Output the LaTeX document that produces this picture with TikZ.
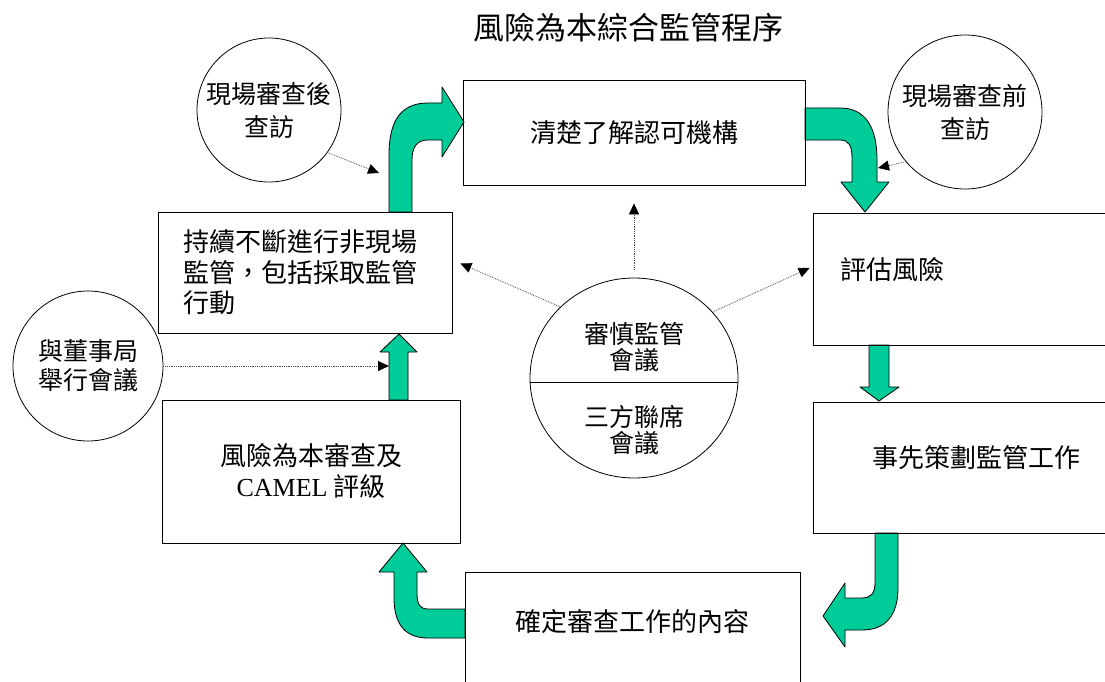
\documentclass[tikz,border=0pt]{standalone}
\usepackage{fontspec}
\setmainfont{Liberation Serif}
\newfontfamily\cjk{Noto Sans CJK TC}
\usepackage{tikz}
\usetikzlibrary{arrows.meta, shapes.geometric}
\definecolor{arrowgreen}{HTML}{00CC99}

\begin{document}
\begin{tikzpicture}[x=1pt, y=-1pt,
    box/.style={draw, line width=0.8pt, rectangle, inner sep=0pt, align=center, font=\cjk\fontsize{26}{31}\selectfont},
    talk/.style={draw, line width=0.8pt, circle, inner sep=0pt, align=center, font=\cjk\fontsize{25}{33}\selectfont},
    bigarrow/.style={fill=arrowgreen, draw=black, line width=0.8pt, line join=round},
    hint/.style={densely dotted, line width=0.8pt, black!70, -{Triangle[black, length=11pt, width=10pt]}}]
      \useasboundingbox (0,0) rectangle (1105,682);
      \node [font=\cjk\fontsize{31}{31}\selectfont] (title) at (628,28) {風險為本綜合監管程序};

      \draw[bigarrow] (389,212) -- (389,155) .. controls (389,122) and (400,103) .. (428,103) -- (442,103) -- (442,87) -- (464,122) -- (442,157) -- (442,140) -- (428,140) .. controls (417,140) and (412,147) .. (412,160) -- (412,212) -- cycle;
      \draw[bigarrow] (805,108) -- (840,108) .. controls (866,108) and (877,128) .. (877,160) -- (877,182) -- (889,182) -- (865,212) -- (841,182) -- (852,182) -- (852,158) .. controls (852,146) and (849,140) .. (840,140) -- (805,140) -- cycle;
      \draw[bigarrow] (869,345) -- (869,387) -- (860,387) -- (879,401) -- (899,387) -- (889,387) -- (889,345) -- cycle;
      \draw[bigarrow] (875,533) -- (898,533) -- (898,588) .. controls (898,615) and (886,630) .. (862,630) -- (845,630) -- (845,647) -- (823,616) -- (845,583) -- (845,598) -- (862,598) .. controls (871,598) and (875,593) .. (875,583) -- cycle;
      \draw[bigarrow] (465,609) -- (428,609) .. controls (420,609) and (417,604) .. (417,594) -- (417,572) -- (427,572) -- (403,543) -- (379,572) -- (394,572) -- (394,598) .. controls (394,624) and (405,638) .. (428,638) -- (465,638) -- cycle;
      \draw[bigarrow] (389,400) -- (389,352) -- (380,352) -- (399,334) -- (417,352) -- (408,352) -- (408,400) -- cycle;
      \coordinate (liftleft) at (389,366);
      \coordinate (afterend) at (379,173);
      \coordinate (beforeend) at (878,168);

      \node [box, minimum width=342pt, minimum height=105pt] (know) at (634,132.5) {清楚了解認可機構};
      \node [box, minimum width=294pt, minimum height=121pt, text width=244pt, align=left, font=\cjk\fontsize{26}{30.5}\selectfont] (offsite) at (305,272.5) {持續不斷進行非現場\\監管，包括採取監管\\行動};
      \node [box, minimum width=327pt, minimum height=132pt, text width=273pt, align=left, text depth=22pt] (assess) at (976.5,279) {評估風險};
      \node [box, minimum width=298pt, minimum height=143pt] (camel) at (311,471.5) {風險為本審查及\\{\rmfamily CAMEL} 評級};
      \node [box, minimum width=327pt, minimum height=131pt, text depth=23pt] (plan) at (976.5,467.5) {事先策劃監管工作};
      \node [box, minimum width=335pt, minimum height=114pt, text depth=17pt] (content) at (632.5,629) {確定審查工作的內容};

      \node [talk, minimum size=144pt] (after) at (269,110) {現場審查後\\查訪};
      \node [talk, minimum size=154pt] (before) at (965,112) {現場審查前\\查訪};
      \node [talk, minimum size=150pt, font=\cjk\fontsize{25}{29}\selectfont] (board) at (88,366) {與董事局\\舉行會議};
      \node [draw, line width=0.8pt, ellipse, inner sep=0pt, minimum width=208pt, minimum height=200pt] (meet) at (634,378) {};
      \draw[line width=0.8pt] ([yshift=-4pt]meet.west) -- ([yshift=-4pt]meet.east);
      \begin{scope}[every node/.style={align=center, font=\cjk\fontsize{25}{25.5}\selectfont}]
        \node (prudential) at (634,347) {審慎監管\\會議};
        \node (tripartite) at (634,430) {三方聯席\\會議};
      \end{scope}

      \draw[hint, shorten <=8pt, shorten >=18pt] (meet) -- (know);
      \draw[hint] (meet.136) -- ([shift={(8,-9)}]offsite.east);
      \draw[hint] (meet.40) -- ([shift={(-3,-11)}]assess.west);
      \draw[hint] (board.east) -- (board.east -| liftleft);
      \draw[hint] (after.-36) -- (afterend);
      \draw[hint] (before.220) -- (beforeend);
    \end{tikzpicture}
\end{document}
